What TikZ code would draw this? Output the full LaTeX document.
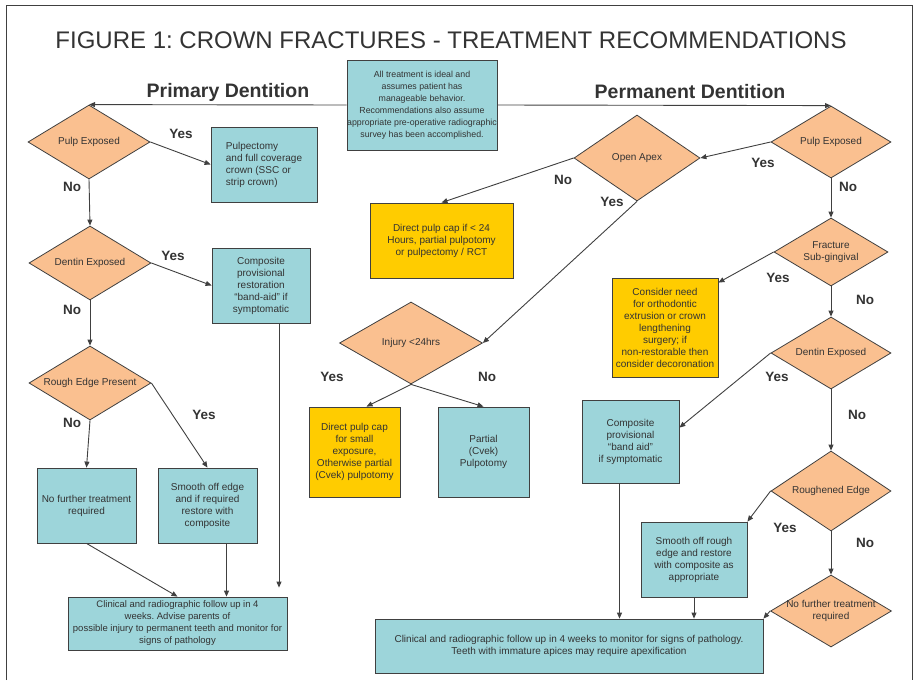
\documentclass[tikz,border=0pt]{standalone}
\usepackage{fontspec}
\setmainfont{Liberation Sans}
\usetikzlibrary{shapes.geometric,arrows.meta}
\frenchspacing
\definecolor{peach}{HTML}{FAC090}
\definecolor{aqua}{HTML}{9DD5DA}
\definecolor{gold}{HTML}{FFCC00}
\definecolor{ink}{HTML}{404040}
\definecolor{txt}{HTML}{333333}
\newcommand{\dlabel}[1]{\makebox[0pt]{\begin{tabular}{@{}c@{}}#1\end{tabular}}}
\newcommand{\lblyes}[3]{\node[lbl] (#1) at (#2,#3) {Yes};}
\newcommand{\lblno}[3]{\node[lbl] (#1) at (#2,#3) {No};}
\tikzset{
  dec/.style={diamond, draw=ink, fill=peach, line width=0.8pt, inner sep=0pt,
    minimum width=122pt, minimum height=74pt, text=txt, font=\fontsize{10}{12}\selectfont},
  act/.style={rectangle, draw=ink, fill=aqua, line width=0.8pt, align=center,
    text=txt, font=\fontsize{10}{12}\selectfont},
  note/.style={act, fill=gold},
  lbl/.style={text=txt, font=\bfseries\fontsize{13.5}{15}\selectfont},
  head/.style={text=txt, font=\bfseries\fontsize{19.5}{22}\selectfont},
  arr/.style={draw=ink, line width=0.9pt, -{Triangle[length=6pt,width=5pt]}}
}
\begin{document}
\begin{tikzpicture}[x=1pt, y=-1pt]
  \useasboundingbox (0,0) rectangle (915,680);
  \draw[ink, line width=1pt] (6,680) -- (6,5) -- (912,5) -- (912,680);
  % title and header
  \node[text=txt, font=\fontsize{24}{28}\selectfont] (title) at (451,40)
    {FIGURE 1: CROWN FRACTURES - TREATMENT RECOMMENDATIONS};
  \node[head] (prim) at (228,92) {Primary Dentition};
  \node[head] (perm) at (690,92) {Permanent Dentition};
  \node[act, minimum width=150pt, minimum height=90pt, inner sep=0pt,
    font=\fontsize{8.8}{12}\selectfont] (intro) at (422,105)
    {All treatment is ideal and\\assumes patient has\\manageable behavior.\\
     Recommendations also assume\\appropriate pre-operative radiographic\\
     survey has been accomplished.};

  % primary dentition
  \node[dec] (pe1) at (89,142) {\dlabel{Pulp Exposed}};
  \node[dec] (de1) at (90,263) {\dlabel{Dentin Exposed}};
  \node[dec] (re1) at (90,383) {\dlabel{Rough Edge Present}};
  \node[act, align=left, minimum width=106pt, minimum height=75pt] (pulpect) at (264,164.5)
    {Pulpectomy\\and full coverage\\crown (SSC or\\strip crown)};
  \node[act, minimum width=98pt, minimum height=75pt] (comp1) at (261,285.5)
    {Composite\\provisional\\restoration\\``band-aid'' if\\symptomatic};
  \node[act, minimum width=99pt, minimum height=75pt] (nofur1) at (86.5,505.5)
    {No further treatment\\required};
  \node[act, minimum width=99pt, minimum height=75pt] (smooth1) at (207.5,505.5)
    {Smooth off edge\\and if required\\restore with\\composite};
  \node[act, minimum width=219pt, minimum height=53pt, inner sep=0pt,
    font=\fontsize{9.5}{12}\selectfont] (follow1) at (177.5,623.5)
    {Clinical and radiographic follow up in 4\\weeks. Advise parents of\\
     possible injury to permanent teeth and monitor for\\signs of pathology};

  \draw[arr] (intro.west) -- (pe1.north);
  \draw[arr] (pe1.east) -- (pulpect.west);
  \draw[arr] (pe1.south) -- (de1.north);
  \draw[arr] (de1.east) -- (comp1.west);
  \draw[arr] (de1.south) -- (re1.north);
  \draw[arr] (re1.south) -- (nofur1.north);
  \draw[arr] (re1.east) -- (smooth1.north);
  \draw[arr] (nofur1.south) -- (follow1.north);
  \draw[arr] ([xshift=19pt]smooth1.south) -- ([xshift=19pt]smooth1.south |- follow1.north);
  \draw[arr, shorten >=9pt] ([xshift=18pt]comp1.south) -- ([xshift=18pt]comp1.south |- follow1.north);

  \lblyes{y1}{181}{134}
  \lblno{n1}{72}{187}
  \lblyes{y2}{173}{256}
  \lblno{n2}{72}{310}
  \lblno{n3}{72}{423}
  \lblyes{y3}{204}{415}

  % permanent dentition
  \node[dec, minimum width=120pt, minimum height=72pt] (pe2) at (831,142) {\dlabel{Pulp Exposed}};
  \node[dec, minimum width=126pt, minimum height=86pt] (oa) at (637,158) {\dlabel{Open Apex}};
  \node[dec, minimum width=143pt, minimum height=82pt] (inj) at (411,343) {\dlabel{Injury <24hrs}};
  \node[dec, minimum width=114pt, minimum height=68pt] (frac) at (831,252)
    {\dlabel{Fracture\\Sub-gingival}};
  \node[dec, minimum width=120pt, minimum height=72pt] (de2) at (831,353) {\dlabel{Dentin Exposed}};
  \node[dec, minimum width=120pt, minimum height=80pt] (re2) at (831,491) {\dlabel{Roughened Edge}};
  \node[dec, minimum width=121pt, minimum height=72pt] (nf2) at (831,611)
    {\dlabel{No further treatment\\required}};

  \node[note, minimum width=143pt, minimum height=75pt] (dpc1) at (441.5,240.5)
    {Direct pulp cap if < 24\\Hours, partial pulpotomy\\or pulpectomy / RCT};
  \node[note, minimum width=91pt, minimum height=90pt, inner sep=0pt] (dpc2) at (354.5,452)
    {Direct pulp cap\\for small\\exposure,\\Otherwise partial\\(Cvek) pulpotomy};
  \node[act, minimum width=91pt, minimum height=90pt] (partial) at (483.5,452)
    {Partial\\(Cvek)\\Pulpotomy};
  \node[note, minimum width=106pt, minimum height=99pt, inner sep=0pt] (cons) at (665,327.5)
    {Consider need\\for orthodontic\\extrusion or crown\\lengthening\\surgery; if\\
     non-restorable then\\consider decoronation};
  \node[act, minimum width=97pt, minimum height=83pt] (comp2) at (630.5,441.5)
    {Composite\\provisional\\``band aid''\\if symptomatic};
  \node[act, minimum width=106pt, minimum height=75pt, inner sep=0pt] (smooth2) at (694,559.5)
    {Smooth off rough\\edge and restore\\with composite as\\appropriate};
  \node[act, minimum width=388pt, minimum height=54pt] (follow2) at (569,646)
    {Clinical and radiographic follow up in 4 weeks to monitor for signs of pathology.\\
     Teeth with immature apices may require apexification};

  \draw[arr] (intro.east) -- (pe2.north);
  \draw[arr] (pe2.west) -- (oa.east);
  \draw[arr] (oa.west) -- (dpc1.north);
  \draw[arr] (oa.south) -- (inj.east);
  \draw[arr] (inj.south) -- ([xshift=12pt]dpc2.north);
  \draw[arr] (inj.south) -- (partial.north);
  \draw[arr] (pe2.south) -- (frac.north);
  \draw[arr] (frac.west) -- ([yshift=-5pt]cons.north east);
  \draw[arr] (frac.south) -- (de2.north);
  \draw[arr] (de2.west) -- ([yshift=-28pt]comp2.north east);
  \draw[arr] (de2.south) -- (re2.north);
  \draw[arr] (re2.west) -- (smooth2.north east);
  \draw[arr] (re2.south) -- (nf2.north);
  \draw[arr] (nf2.west) -- (follow2.north east);
  \draw[arr] ([xshift=-11pt]comp2.south) -- ([xshift=-11pt]comp2.south |- follow2.north);
  \draw[arr] (smooth2.south) -- (smooth2.south |- follow2.north);

  \lblno{n4}{563}{180}
  \lblyes{y4}{612}{202}
  \lblyes{y5}{332}{377}
  \lblno{n5}{487}{377}
  \lblyes{y6}{763}{163}
  \lblno{n6}{848}{187}
  \lblyes{y7}{778}{278}
  \lblno{n7}{865}{300}
  \lblyes{y8}{777}{377}
  \lblno{n8}{857}{415}
  \lblyes{y9}{785}{528}
  \lblno{n9}{865}{543}
\end{tikzpicture}
\end{document}
